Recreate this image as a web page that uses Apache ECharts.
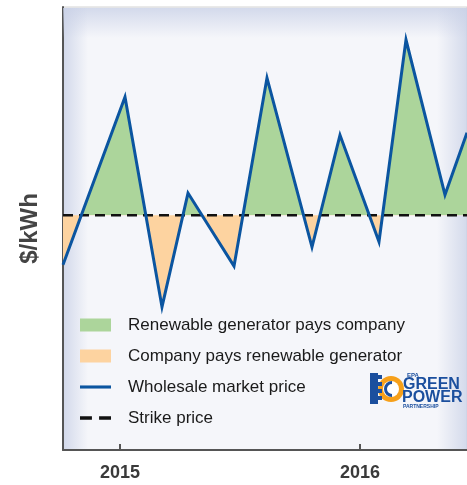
<!DOCTYPE html>
<html>
<head>
<meta charset="utf-8">
<script src="https://cdn.jsdelivr.net/npm/echarts@6/dist/echarts.min.js"></script>
<style>
html, body { margin: 0; padding: 0; background: #fff; }
#main { width: 467px; height: 485px; }
</style>
</head>
<body>
<div id="main"></div>
<script>
// months counted from Jan 2015, prices (no scale shown)
var months = [-2.85, 0.25, 2.1, 3.4, 5.7, 7.35, 9.6, 11.0, 12.95, 14.3, 16.25, 17.35];
var prices = [4.18, 7.97, 3.23, 5.80, 4.15, 8.40, 4.58, 7.11, 4.70, 9.26, 5.76, 7.16];
var strikePrice = 5.3;
var xRange = [-2.85, 17.35];
var yRange = [0, 10];
var yearTicks = [0, 12];
var yearLabels = ['2015', '2016'];

var GREEN = '#acd59b';
var ORANGE = '#fdd3a0';
var BLUE = '#0b55a0';
var LOGO_BLUE = '#1b4f9e';
var GLOW = 'rgba(200,208,230,0.75)';
var GLOW_END = 'rgba(200,208,230,0)';

function pairs(xs, ys) {
    var out = [];
    for (var i = 0; i < xs.length; i++) {
        out.push([xs[i], ys[i]]);
    }
    return out;
}

// soft inner shadow along an edge of the plot area
function glow(x, y, w, h, gx, gy, gx2, gy2) {
    return {
        type: 'rect', z: 1, silent: true,
        shape: { x: x, y: y, width: w, height: h },
        style: {
            fill: {
                type: 'linear', x: gx, y: gy, x2: gx2, y2: gy2,
                colorStops: [{ offset: 0, color: GLOW }, { offset: 1, color: GLOW_END }]
            }
        }
    };
}

// EPA Green Power Partnership badge, bottom right
function logo() {
    var parts = [
        { type: 'circle', shape: { cx: 21, cy: 17, r: 13 }, style: { fill: '#f6a01a' } },
        { type: 'circle', shape: { cx: 21, cy: 17, r: 8 }, style: { fill: '#fff' } },
        { type: 'sector', shape: { cx: 22, cy: 17, r: 8, r0: 5, startAngle: Math.PI / 2, endAngle: Math.PI * 1.5 }, style: { fill: LOGO_BLUE } },
        { type: 'rect', shape: { x: 0, y: 1, width: 8, height: 31 }, style: { fill: LOGO_BLUE } },
        { type: 'rect', shape: { x: 8, y: 3, width: 4, height: 4 }, style: { fill: LOGO_BLUE } },
        { type: 'rect', shape: { x: 8, y: 10, width: 4, height: 4 }, style: { fill: LOGO_BLUE } },
        { type: 'rect', shape: { x: 8, y: 17, width: 4, height: 4 }, style: { fill: LOGO_BLUE } },
        { type: 'rect', shape: { x: 8, y: 24, width: 4, height: 4 }, style: { fill: LOGO_BLUE } },
        { type: 'text', x: 37, y: 0, style: { text: 'EPA', fill: LOGO_BLUE, font: 'bold 6px Liberation Sans' } },
        { type: 'text', x: 33, y: 5, style: { text: 'GREEN', fill: LOGO_BLUE, font: 'bold 16px Liberation Sans' } },
        { type: 'text', x: 32, y: 18, style: { text: 'POWER', fill: LOGO_BLUE, font: 'bold 16px Liberation Sans' } },
        { type: 'text', x: 33, y: 32, style: { text: 'PARTNERSHIP', fill: LOGO_BLUE, font: 'bold 5px Liberation Sans' } }
    ];
    for (var i = 0; i < parts.length; i++) {
        parts[i].z = 10;
        parts[i].silent = true;
    }
    return { type: 'group', left: 370, top: 372, children: parts };
}

var priceData = pairs(months, prices);
var strikeData = pairs(xRange, [strikePrice, strikePrice]);

var option = {
    animation: false,
    grid: {
        left: 63, top: 7, right: 0, bottom: 35,
        show: true,
        borderWidth: 1,
        borderColor: '#d2d2d2',
        backgroundColor: '#f5f6fa'
    },
    xAxis: {
        type: 'value',
        min: xRange[0],
        max: xRange[1],
        axisLine: { onZero: false, lineStyle: { color: '#555', width: 2 } },
        axisTick: {
            show: true, inside: true, length: 6,
            customValues: yearTicks,
            lineStyle: { color: '#555', width: 2 }
        },
        axisLabel: {
            customValues: yearTicks,
            margin: 14,
            fontFamily: 'Liberation Sans',
            fontSize: 18,
            fontWeight: 'bold',
            color: '#3a3a3a',
            formatter: function (v) {
                var i = yearTicks.indexOf(v);
                return i >= 0 ? yearLabels[i] : '';
            }
        },
        splitLine: { show: false }
    },
    yAxis: {
        type: 'value',
        min: yRange[0],
        max: yRange[1],
        name: '$/kWh',
        nameLocation: 'middle',
        nameRotate: 90,
        nameGap: 21,
        nameTextStyle: {
            fontFamily: 'Liberation Sans',
            fontSize: 24,
            fontWeight: 'bold',
            color: '#444'
        },
        axisLine: { show: true, onZero: false, lineStyle: { color: '#555', width: 2 } },
        axisTick: { show: false },
        axisLabel: { show: false },
        splitLine: { show: false }
    },
    visualMap: {
        show: false,
        type: 'piecewise',
        seriesIndex: 0,
        dimension: 1,
        pieces: [
            { gte: yRange[0], lte: strikePrice, color: ORANGE },
            { gt: strikePrice, lte: yRange[1], color: GREEN }
        ]
    },
    legend: {
        orient: 'vertical',
        left: 80,
        top: 316,
        padding: 0,
        itemWidth: 31,
        itemHeight: 13,
        itemGap: 13,
        selectedMode: false,
        textStyle: {
            fontFamily: 'Liberation Sans',
            fontSize: 17,
            lineHeight: 18,
            color: '#1a1a1a',
            padding: [0, 0, 0, 12]
        },
        data: [
            { name: 'Renewable generator pays company', icon: 'rect' },
            { name: 'Company pays renewable generator', icon: 'rect' },
            { name: 'Wholesale market price', icon: 'path://M0,0h30v3h-30z' },
            { name: 'Strike price', icon: 'path://M0,0h10v3h-10zM16,0h10v3h-10z' }
        ]
    },
    series: [
        {
            name: 'spread',
            type: 'line',
            data: priceData,
            symbol: 'none',
            z: 2,
            lineStyle: { width: 0, opacity: 0 },
            areaStyle: { origin: strikePrice, opacity: 1 }
        },
        {
            name: 'Strike price',
            type: 'line',
            data: strikeData,
            symbol: 'none',
            z: 3,
            color: '#111',
            lineStyle: { color: '#111', width: 2.5, type: [10, 6] }
        },
        {
            name: 'Wholesale market price',
            type: 'line',
            data: priceData,
            symbol: 'none',
            z: 4,
            color: BLUE,
            lineStyle: { color: BLUE, width: 3, join: 'miter' }
        },
        {
            name: 'Renewable generator pays company',
            type: 'line',
            symbol: 'none',
            data: [],
            color: GREEN
        },
        {
            name: 'Company pays renewable generator',
            type: 'line',
            symbol: 'none',
            data: [],
            color: ORANGE
        }
    ],
    graphic: [
        glow(63, 8, 404, 30, 0, 0, 0, 1),
        glow(64, 8, 24, 441, 0, 0, 1, 0),
        glow(437, 8, 30, 441, 1, 0, 0, 0),
        logo()
    ]
};

var myChart = echarts.init(document.getElementById('main'));
myChart.setOption(option);
</script>
</body>
</html>
